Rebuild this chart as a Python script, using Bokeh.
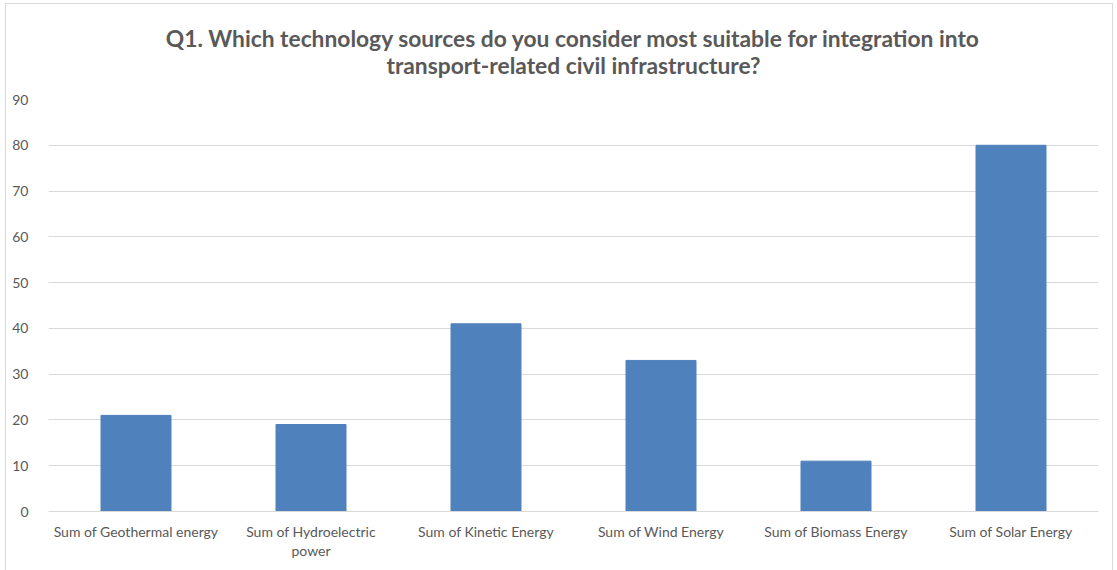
from bokeh.plotting import figure
from bokeh.models import Title, Range1d, FixedTicker, LinearAxis
from bokeh.embed import file_html
from bokeh.resources import INLINE

title_lines = ["Q1. Which technology sources do you consider most suitable for integration into",
               "transport-related civil infrastructure?"]
categories = ["Sum of Geothermal energy", "Sum of Hydroelectric power", "Sum of Kinetic Energy",
              "Sum of Wind Energy", "Sum of Biomass Energy", "Sum of Solar Energy"]
# tick label lines (as wrapped in the reference)
label_line1 = ["Sum of Geothermal energy", "Sum of Hydroelectric", "Sum of Kinetic Energy",
               "Sum of Wind Energy", "Sum of Biomass Energy", "Sum of Solar Energy"]
label_line2 = ["", "power", "", "", "", ""]
values = [21, 19, 41, 33, 11, 80]
y_ticks = [0, 10, 20, 30, 40, 50, 60, 70, 80, 90]

TEXT = "#595959"
FONT = "Lato"
TSIZE = "22.8px"

xs = [i + 0.5 for i in range(len(categories))]

p = figure(x_range=Range1d(0, len(categories)), y_range=Range1d(0, 90),
           width=1108, height=580, output_backend="svg", toolbar_location=None,
           min_border_left=42, min_border_right=16, min_border_top=95, min_border_bottom=73,
           title=title_lines[0], x_axis_type=None)
p.margin = (3, 0, 0, 5)
p.styles = {"border": "1px solid #d9d9d9"}

p.title.align = "center"
p.title.text_font = FONT
p.title.text_font_size = TSIZE
p.title.text_font_style = "bold"
p.title.text_color = TEXT
p.title.standoff = -48

t2 = Title(text=title_lines[1], align="center", text_font=FONT, text_font_size=TSIZE,
           text_font_style="bold", text_color=TEXT, standoff=42)
p.add_layout(t2, "above")

p.vbar(x=xs, top=values, width=0.4, color="#4F81BD")

p.outline_line_color = None
p.ygrid.grid_line_color = "#D9D9D9"
p.ygrid.grid_line_width = 1

p.yaxis.ticker = FixedTicker(ticks=y_ticks)
p.yaxis.axis_line_color = None
p.yaxis.major_tick_line_color = None
p.yaxis.minor_tick_line_color = None
p.yaxis.major_label_text_font = FONT
p.yaxis.major_label_text_font_size = "14px"
p.yaxis.major_label_text_color = TEXT
p.yaxis.major_label_standoff = 14

ax1 = LinearAxis(ticker=FixedTicker(ticks=xs),
                 major_label_overrides={x: t for x, t in zip(xs, label_line1)})
ax1.axis_line_color = "#D9D9D9"
ax1.major_label_standoff = 5
x2 = [x for x, t in zip(xs, label_line2) if t]
ax2 = LinearAxis(ticker=FixedTicker(ticks=x2),
                 major_label_overrides={x: t for x, t in zip(xs, label_line2) if t})
ax2.axis_line_color = None
ax2.major_label_standoff = -7
for ax in (ax1, ax2):
    ax.major_tick_line_color = None
    ax.minor_tick_line_color = None
    ax.major_label_text_font = FONT
    ax.major_label_text_font_size = "14px"
    ax.major_label_text_color = TEXT
p.add_layout(ax1, "below")
p.add_layout(ax2, "below")

open("out.html", "w").write(file_html(p, INLINE))
